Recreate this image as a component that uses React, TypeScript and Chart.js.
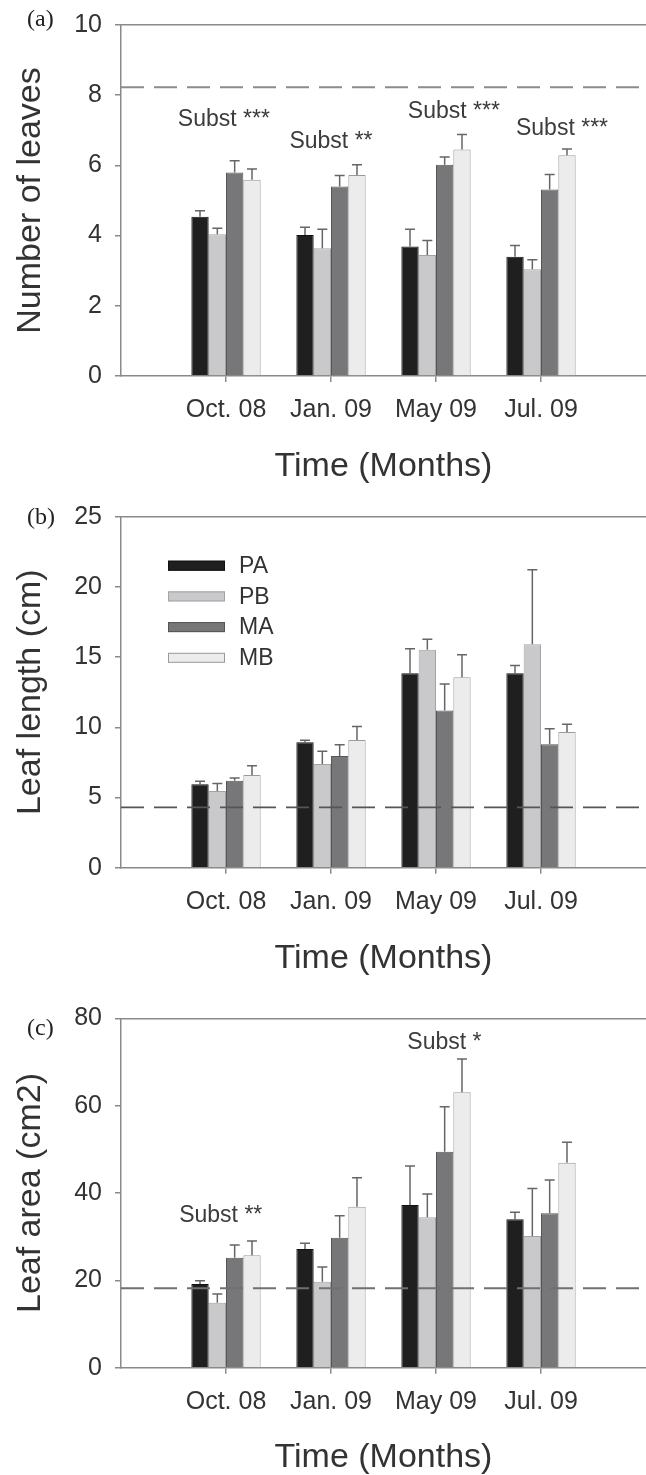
import React, { useEffect, useRef } from 'react';
import { Chart, registerables } from 'chart.js';

Chart.register(...registerables);

// ---------- data ----------
const categories = ['Oct. 08', 'Jan. 09', 'May 09', 'Jul. 09'];
const seriesNames = ['PA', 'PB', 'MA', 'MB'];

// (a) Number of leaves
const leavesPA = [4.54, 4.02, 3.69, 3.4];
const leavesPB = [4.04, 3.64, 3.45, 3.04];
const leavesMA = [5.8, 5.4, 6.02, 5.31];
const leavesMB = [5.59, 5.73, 6.45, 6.29];
const leavesPAErr = [0.17, 0.22, 0.49, 0.32];
const leavesPBErr = [0.17, 0.54, 0.41, 0.27];
const leavesMAErr = [0.33, 0.31, 0.22, 0.43];
const leavesMBErr = [0.31, 0.29, 0.43, 0.18];
const leavesReference = 8.23;
const leavesTicks = [0, 2, 4, 6, 8, 10];
const leavesNoteText = ['Subst ***', 'Subst **', 'Subst ***', 'Subst ***'];
const leavesNoteX = [0.98, 2.0, 3.17, 4.2];
const leavesNoteY = [7.3, 6.69, 7.53, 7.06];

// (b) Leaf length (cm)
const lengthPA = [5.94, 8.94, 13.85, 13.85];
const lengthPB = [5.47, 7.39, 15.52, 15.92];
const lengthMA = [6.2, 7.96, 11.19, 8.8];
const lengthMB = [6.61, 9.1, 13.57, 9.67];
const lengthPAErr = [0.21, 0.14, 1.74, 0.55];
const lengthPBErr = [0.52, 0.91, 0.76, 5.3];
const lengthMAErr = [0.19, 0.79, 1.9, 1.09];
const lengthMBErr = [0.66, 0.95, 1.59, 0.55];
const lengthReference = 4.3;
const lengthTicks = [0, 5, 10, 15, 20, 25];

// (c) Leaf area (cm2)
const areaPA = [19.16, 27.18, 37.25, 33.97];
const areaPB = [14.88, 19.69, 34.43, 30.15];
const areaMA = [25.19, 29.77, 49.46, 35.35];
const areaMB = [25.73, 36.87, 63.05, 46.94];
const areaPAErr = [0.76, 1.3, 8.93, 1.6];
const areaPBErr = [2.0, 3.37, 5.34, 10.9];
const areaMAErr = [2.9, 5.04, 10.3, 7.6];
const areaMBErr = [3.28, 6.64, 7.63, 4.66];
const areaReference = 18.2;
const areaTicks = [0, 20, 40, 60, 80];
const areaNoteText = ['Subst **', 'Subst *'];
const areaNoteX = [0.95, 3.08];
const areaNoteY = [34.8, 74.5];

// ---------- styles ----------
const FONT = '"Liberation Sans", Arial, sans-serif';
const fills = ['#1f1f1f', '#c9c9cb', '#77777a', '#ececec'];
const borders = ['#111111', '#a3a3a3', '#555555', '#9a9a9a'];
const AXIS = '#8a8a8a';
const TEXT = '#333333';

const errorBarPlugin = {
  id: 'errorBars',
  afterDatasetsDraw(chart: any) {
    const { ctx } = chart;
    const yScale = chart.scales.y;
    chart.data.datasets.forEach((ds: any, i: number) => {
      if (!ds.errorBars) return;
      const meta = chart.getDatasetMeta(i);
      meta.data.forEach((bar: any, j: number) => {
        const v = ds.data[j];
        const e = ds.errorBars[j];
        if (v == null || e == null) return;
        const x = bar.x;
        const y0 = bar.y;
        const y1 = yScale.getPixelForValue(v + e);
        ctx.save();
        ctx.strokeStyle = '#666666';
        ctx.lineWidth = 1.5;
        ctx.beginPath();
        ctx.moveTo(x, y0);
        ctx.lineTo(x, y1);
        ctx.moveTo(x - 5, y1);
        ctx.lineTo(x + 5, y1);
        ctx.stroke();
        ctx.restore();
      });
    });
  },
};

const notesPlugin = {
  id: 'notes',
  afterDraw(chart: any, _args: any, opts: any) {
    if (!opts || !opts.texts) return;
    const { ctx } = chart;
    const xs = chart.scales.x;
    const ys = chart.scales.y;
    ctx.save();
    ctx.font = `23px ${FONT}`;
    ctx.fillStyle = '#3c3c3c';
    ctx.textAlign = 'center';
    ctx.textBaseline = 'middle';
    opts.texts.forEach((t: string, i: number) => {
      ctx.fillText(t, xs.getPixelForValue(opts.xs[i]), ys.getPixelForValue(opts.ys[i]));
    });
    ctx.restore();
  },
};

const boxLegendPlugin = {
  id: 'boxLegend',
  afterDraw(chart: any, _args: any, opts: any) {
    if (!opts || !opts.show) return;
    const { ctx, chartArea } = chart;
    const left = chartArea.left + 47;
    ctx.save();
    ctx.font = `23px ${FONT}`;
    ctx.textBaseline = 'middle';
    ctx.textAlign = 'left';
    let row = 0;
    chart.data.datasets.forEach((ds: any) => {
      if (ds.type !== 'bar') return;
      const cy = chartArea.top + 49 + row * 30.7;
      ctx.fillStyle = ds.backgroundColor;
      ctx.fillRect(left, cy - 5, 57, 10);
      ctx.strokeStyle = ds.borderColor;
      ctx.lineWidth = 1;
      ctx.strokeRect(left + 0.5, cy - 4.5, 56, 9);
      ctx.fillStyle = TEXT;
      ctx.fillText(ds.label, left + 71, cy + 1);
      row++;
    });
    ctx.restore();
  },
};

type PanelSpec = {
  canvasTop: number;
  canvasHeight: number;
  padTop: number;
  xHeight: number;
  yTitle: string;
  ticks: number[];
  series: number[][];
  errors: number[][];
  reference: number;
  refColor: string;
  refWidth: number;
  notes?: { texts: string[]; xs: number[]; ys: number[] };
  legend?: boolean;
};

function Panel({ spec }: { spec: PanelSpec }) {
  const ref = useRef<HTMLCanvasElement>(null);
  useEffect(() => {
    if (!ref.current) return;
    const labels = ['', ...categories, ''];
    const pad = (arr: number[]) => [null, ...arr, null];
    const datasets: any[] = spec.series.map((vals, i) => ({
      type: 'bar',
      label: seriesNames[i],
      data: pad(vals),
      errorBars: pad(spec.errors[i]),
      backgroundColor: fills[i],
      borderColor: borders[i],
      borderWidth: 1,
      categoryPercentage: 0.66,
      barPercentage: 1,
      order: 1,
    }));
    datasets.push({
      type: 'line',
      label: 'reference',
      data: labels.map(() => spec.reference),
      borderColor: spec.refColor,
      borderWidth: spec.refWidth,
      borderDash: [23, 10],
      pointRadius: 0,
      fill: false,
      order: 0,
    });
    const yMax = spec.ticks[spec.ticks.length - 1];
    const titleLine = 34;
    const xTitlePad = Math.max(0, spec.xHeight - 91 - titleLine / 2);
    const chart = new Chart(ref.current, {
      type: 'bar',
      data: { labels, datasets },
      plugins: [errorBarPlugin, notesPlugin, boxLegendPlugin],
      options: {
        animation: false,
        responsive: false,
        devicePixelRatio: 1,
        layout: { padding: { top: spec.padTop, left: 0, right: 0, bottom: 0 } },
        plugins: {
          legend: { display: false },
          tooltip: { enabled: false },
          notes: spec.notes || {},
          boxLegend: { show: !!spec.legend },
        } as any,
        scales: {
          x: {
            type: 'category',
            offset: false,
            grid: {
              display: true,
              offset: false,
              drawOnChartArea: false,
              drawTicks: true,
              tickLength: 6,
              lineWidth: 1.5,
              color: (c: any) =>
                c.index === 0 || c.index === labels.length - 1 ? 'rgba(0,0,0,0)' : AXIS,
            },
            border: { display: true, color: AXIS, width: 1.5 },
            ticks: {
              autoSkip: false,
              maxRotation: 0,
              padding: 0,
              color: TEXT,
              font: { family: FONT, size: 25, lineHeight: 2.24 },
            },
            title: {
              display: true,
              text: 'Time (Months)',
              color: TEXT,
              font: { family: FONT, size: 34, lineHeight: 1 },
              padding: { top: 0, bottom: xTitlePad },
            },
            afterFit: (s: any) => {
              s.height = spec.xHeight;
            },
          },
          x2: {
            type: 'category',
            position: 'top',
            offset: false,
            grid: { display: false, drawTicks: false },
            border: { display: true, color: AXIS, width: 1.5 },
            ticks: { display: false, padding: 0 },
            afterFit: (s: any) => {
              s.height = 0;
            },
          },
          y: {
            type: 'linear',
            min: 0,
            max: yMax,
            afterBuildTicks: (s: any) => {
              s.ticks = spec.ticks.map((v) => ({ value: v }));
            },
            grid: {
              display: true,
              drawOnChartArea: false,
              drawTicks: true,
              tickLength: 6,
              lineWidth: 1.5,
              color: AXIS,
            },
            border: { display: true, color: AXIS, width: 1.5 },
            ticks: {
              padding: 13,
              color: TEXT,
              font: { family: FONT, size: 25, lineHeight: 0.6 },
            },
            title: {
              display: true,
              text: spec.yTitle,
              color: TEXT,
              font: { family: FONT, size: 34, lineHeight: 1 },
              padding: { top: 14, bottom: 0 },
            },
            afterFit: (s: any) => {
              s.width = 121;
            },
          },
        },
      } as any,
    });
    return () => chart.destroy();
  }, [spec]);
  return (
    <canvas
      ref={ref}
      width={646}
      height={spec.canvasHeight}
      style={{
        position: 'absolute',
        left: 0,
        top: spec.canvasTop,
        width: 646,
        height: spec.canvasHeight,
        display: 'block',
      }}
    />
  );
}

const panelA: PanelSpec = {
  canvasTop: 0,
  canvasHeight: 490,
  padTop: 25,
  xHeight: 114,
  yTitle: 'Number of leaves',
  ticks: leavesTicks,
  series: [leavesPA, leavesPB, leavesMA, leavesMB],
  errors: [leavesPAErr, leavesPBErr, leavesMAErr, leavesMBErr],
  reference: leavesReference,
  refColor: '#8c8c8c',
  refWidth: 2,
  notes: { texts: leavesNoteText, xs: leavesNoteX, ys: leavesNoteY },
};

const panelB: PanelSpec = {
  canvasTop: 490,
  canvasHeight: 490,
  padTop: 26.7,
  xHeight: 112.3,
  yTitle: 'Leaf length (cm)',
  ticks: lengthTicks,
  series: [lengthPA, lengthPB, lengthMA, lengthMB],
  errors: [lengthPAErr, lengthPBErr, lengthMAErr, lengthMBErr],
  reference: lengthReference,
  refColor: '#555555',
  refWidth: 1.6,
  legend: true,
};

const panelC: PanelSpec = {
  canvasTop: 980,
  canvasHeight: 495,
  padTop: 38.3,
  xHeight: 107.3,
  yTitle: 'Leaf area (cm2)',
  ticks: areaTicks,
  series: [areaPA, areaPB, areaMA, areaMB],
  errors: [areaPAErr, areaPBErr, areaMAErr, areaMBErr],
  reference: areaReference,
  refColor: '#707070',
  refWidth: 2,
  notes: { texts: areaNoteText, xs: areaNoteX, ys: areaNoteY },
};

const panelLabel = (text: string, top: number) => (
  <div
    style={{
      position: 'absolute',
      left: 27,
      top: top - 12,
      font: '24px "Liberation Serif", "Times New Roman", serif',
      lineHeight: '24px',
      color: '#222',
    }}
  >
    {text}
  </div>
);

export default function App() {
  return (
    <div
      style={{
        position: 'absolute',
        left: 0,
        top: 0,
        width: 646,
        height: 1475,
        background: '#ffffff',
        overflow: 'hidden',
      }}
    >
      <Panel spec={panelA} />
      <Panel spec={panelB} />
      <Panel spec={panelC} />
      {panelLabel('(a)', 18)}
      {panelLabel('(b)', 516)}
      {panelLabel('(c)', 1027)}
    </div>
  );
}
